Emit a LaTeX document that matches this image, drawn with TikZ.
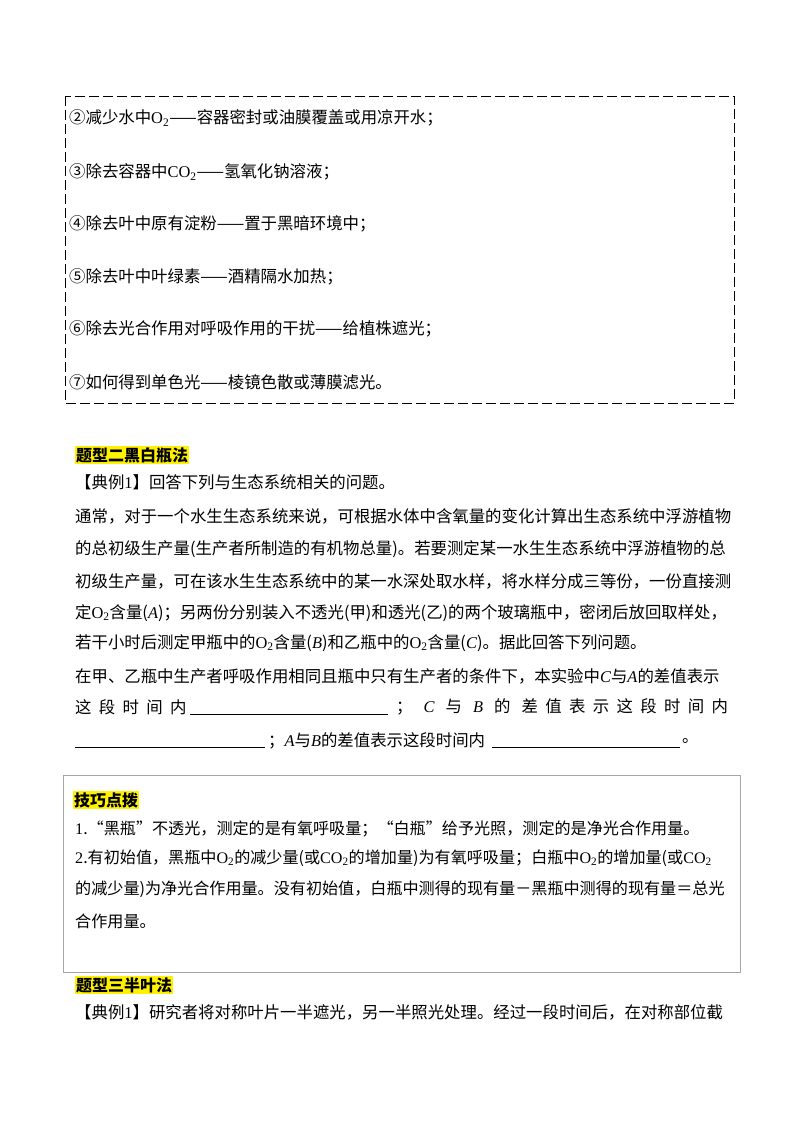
\documentclass[tikz,border=0pt]{standalone}
\usepackage{fontspec}
\setmainfont{Liberation Serif}
\newfontfamily\cjk{Noto Sans CJK SC}
\newcommand{\vi}[1]{\textrm{\textit{#1}}}
\begin{document}
\begin{tikzpicture}[x=1pt,y=-1pt,
  tl/.style={anchor=west,inner sep=0pt,font=\fontsize{16.4}{16}\selectfont\cjk},
  tc/.style={tl,font=\fontsize{16.1}{16}\selectfont\cjk},
  hl/.style={anchor=west,inner sep=1pt,fill=yellow,font=\fontsize{16}{16}\selectfont\cjk\bfseries}]
\useasboundingbox (0,0) rectangle (800,1132);
\draw[dash pattern=on 10pt off 4pt,line width=0.8pt] (65,96) rectangle (734,403);
\node[tl] (a2) at (69,118) {②减少水中\textrm{O\textsubscript{2}}——容器密封或油膜覆盖或用凉开水；};
\node[tl] (a3) at (69,172) {③除去容器中\textrm{CO\textsubscript{2}}——氢氧化钠溶液；};
\node[tl] (a4) at (69,224) {④除去叶中原有淀粉——置于黑暗环境中；};
\node[tl] (a5) at (69,277) {⑤除去叶中叶绿素——酒精隔水加热；};
\node[tl] (a6) at (69,329) {⑥除去光合作用对呼吸作用的干扰——给植株遮光；};
\node[tl] (a7) at (69,382) {⑦如何得到单色光——棱镜色散或薄膜滤光。};
\node[hl] (h2) at (75,455) {题型二黑白瓶法};
\node[tl] (b1) at (75,482) {【典例\textrm{1}】回答下列与生态系统相关的问题。};
\node[tl] (b2) at (75,516) {通常，对于一个水生生态系统来说，可根据水体中含氧量的变化计算出生态系统中浮游植物};
\node[tl] (b3) at (75,549) {的总初级生产量(生产者所制造的有机物总量)。若要测定某一水生生态系统中浮游植物的总};
\node[tl] (b4) at (75,581) {初级生产量，可在该水生生态系统中的某一水深处取水样，将水样分成三等份，一份直接测};
\node[tl] (b5) at (75,613) {定\textrm{O\textsubscript{2}}含量(\vi{A})；另两份分别装入不透光(甲)和透光(乙)的两个玻璃瓶中，密闭后放回取样处，};
\node[tl] (b6) at (75,643) {若干小时后测定甲瓶中的\textrm{O\textsubscript{2}}含量(\vi{B})和乙瓶中的\textrm{O\textsubscript{2}}含量(\vi{C})。据此回答下列问题。};
\node[tl] (b7) at (75,676) {在甲、乙瓶中生产者呼吸作用相同且瓶中只有生产者的条件下，本实验中\vi{C}与\vi{A}的差值表示};
\node[tl] (b8) at (75,707) {这\ \ 段\ \ 时\ \ 间\ \ 内};
\coordinate (u1a) at (190,714); \coordinate (u1b) at (388,714);
\draw (u1a) -- (u1b);
\node[tl] (b8b) at (396,707) {；\ \ \ \vi{C}\ \ \ 与\ \ \ \vi{B}\ \ \ 的\ \ \ 差\ \ 值\ \ 表\ \ 示\ \ 这\ \ 段\ \ 时\ \ 间\ \ 内};
\coordinate (u2a) at (75,747); \coordinate (u2b) at (265,747);
\draw (u2a) -- (u2b);
\node[tl] (b9) at (268,741) {；\vi{A}与\vi{B}的差值表示这段时间内};
\coordinate (u3a) at (492,747); \coordinate (u3b) at (680,747);
\draw (u3a) -- (u3b);
\node[tl] (b9b) at (682,741) {。};
\draw[gray!70,line width=0.8pt] (63,775) rectangle (740,972);
\node[hl] (h3) at (73,800) {技巧点拨};
\node[tc] (c1) at (75,829) {\textrm{1}.“黑瓶”不透光，测定的是有氧呼吸量；“白瓶”给予光照，测定的是净光合作用量。};
\node[tc] (c2) at (75,858) {\textrm{2}.有初始值，黑瓶中\textrm{O\textsubscript{2}}的减少量(或\textrm{CO\textsubscript{2}}的增加量)为有氧呼吸量；白瓶中\textrm{O\textsubscript{2}}的增加量(或\textrm{CO\textsubscript{2}}};
\node[tc] (c3) at (75,889) {的减少量)为净光合作用量。没有初始值，白瓶中测得的现有量－黑瓶中测得的现有量＝总光};
\node[tc] (c4) at (75,921) {合作用量。};
\node[hl] (h4) at (75,985) {题型三半叶法};
\node[tl] (d1) at (75,1012) {【典例\textrm{1}】研究者将对称叶片一半遮光，另一半照光处理。经过一段时间后，在对称部位截};
\end{tikzpicture}
\end{document}
